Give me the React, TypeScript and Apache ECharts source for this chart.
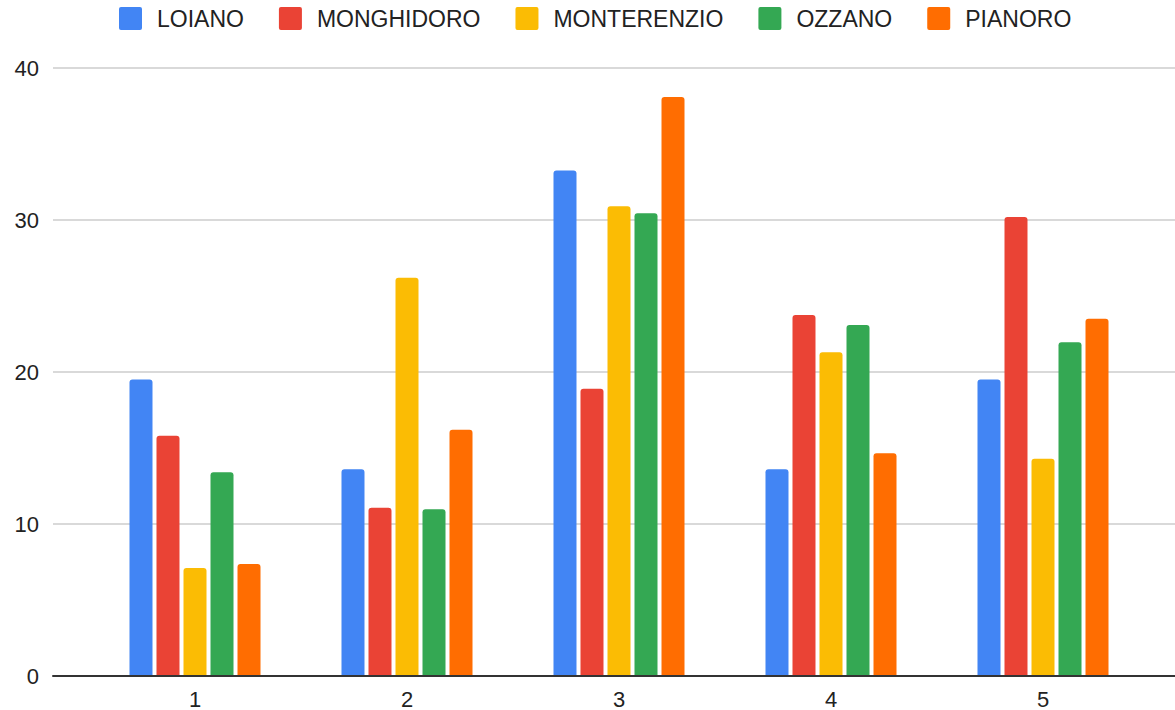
import React, { useEffect, useRef } from "react";
import * as echarts from "echarts";

const categories = ["1", "2", "3", "4", "5"];
const seriesNames = ["LOIANO", "MONGHIDORO", "MONTERENZIO", "OZZANO", "PIANORO"];
const colors = ["#4285F4", "#EA4335", "#FBBC04", "#34A853", "#FF6D01"];
const loiano = [19.5, 13.6, 33.25, 13.6, 19.5];
const monghidoro = [15.8, 11.07, 18.9, 23.75, 30.2];
const monterenzio = [7.1, 26.2, 30.9, 21.3, 14.3];
const ozzano = [13.4, 10.97, 30.45, 23.1, 21.95];
const pianoro = [7.37, 16.2, 38.1, 14.65, 23.5];
const yTicks = { min: 0, max: 40, interval: 10 };

const allData = [loiano, monghidoro, monterenzio, ozzano, pianoro];
const FONT = "'Liberation Sans', Arial, sans-serif";
const ICON =
  "path://M2,0 L21,0 Q23,0 23,2 L23,21 Q23,23 21,23 L2,23 Q0,23 0,21 L0,2 Q0,0 2,0 Z";

export default function App() {
  const ref = useRef<HTMLDivElement>(null);
  useEffect(() => {
    document.body.style.margin = "0";
    if (!ref.current) return;
    const chart = echarts.init(ref.current, null, { renderer: "svg" });
    chart.setOption({
      animation: false,
      backgroundColor: "#ffffff",
      textStyle: { fontFamily: FONT },
      legend: {
        left: 114,
        top: 2,
        itemWidth: 23,
        itemHeight: 23,
        itemGap: 35,
        icon: ICON,
        data: seriesNames,
        textStyle: { fontSize: 23, color: "#222", fontFamily: FONT, padding: [0, 0, 0, 10] },
      },
      grid: [
        { left: 53, right: 0, top: 68, bottom: 34, containLabel: false },
        { left: 89, right: 26, top: 68, bottom: 34, containLabel: false },
      ],
      xAxis: [
        {
          gridIndex: 0,
          type: "value",
          min: 0,
          max: 1,
          axisLine: { show: true, lineStyle: { color: "#333", width: 2 } },
          axisTick: { show: false },
          axisLabel: { show: false },
          splitLine: { show: false },
          z: 5,
        },
        {
          gridIndex: 1,
          type: "category",
          data: categories,
          axisLine: { show: false },
          axisTick: { show: false },
          axisLabel: { fontSize: 22, color: "#222", margin: 12, fontFamily: FONT },
          splitLine: { show: false },
        },
      ],
      yAxis: [
        {
          gridIndex: 0,
          type: "value",
          min: yTicks.min,
          max: yTicks.max,
          interval: yTicks.interval,
          axisLine: { show: false },
          axisTick: { show: false },
          axisLabel: { fontSize: 22, color: "#222", margin: 14, fontFamily: FONT },
          splitLine: { show: true, lineStyle: { color: "#cccccc", width: 1.5 } },
        },
        {
          gridIndex: 1,
          type: "value",
          min: yTicks.min,
          max: yTicks.max,
          interval: yTicks.interval,
          show: false,
          splitLine: { show: false },
        },
      ],
      series: seriesNames.map((name, i) => ({
        name,
        type: "bar",
        xAxisIndex: 1,
        yAxisIndex: 1,
        data: allData[i],
        barWidth: 23,
        barGap: "17.4%",
        itemStyle: { color: colors[i], borderRadius: [3, 3, 0, 0] },
        z: 3,
      })),
    });
    return () => chart.dispose();
  }, []);
  return <div ref={ref} style={{ width: 1175, height: 710 }} />;
}
